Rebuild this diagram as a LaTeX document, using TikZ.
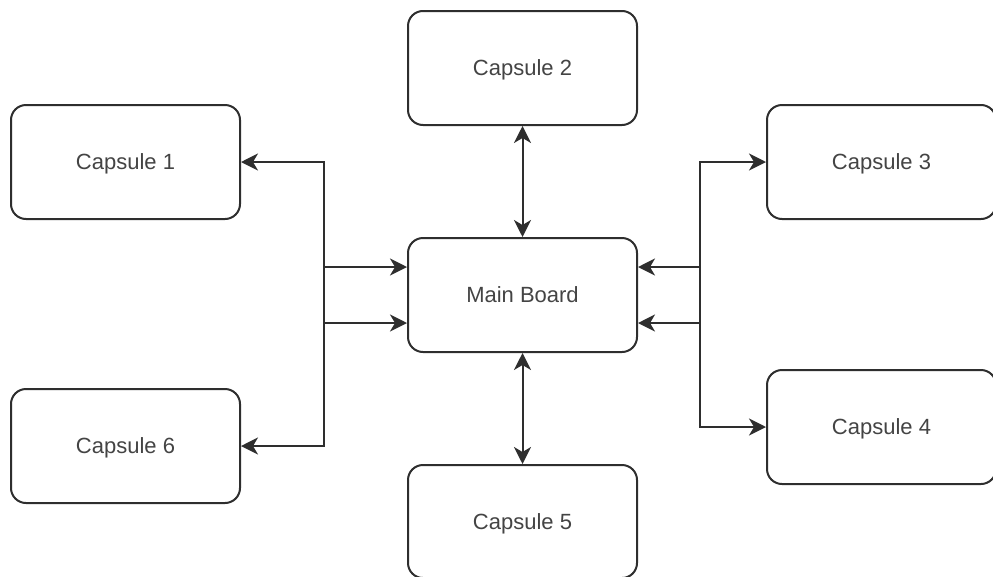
\documentclass[tikz,border=0pt]{standalone}
\usepackage{fontspec}
\setmainfont{Liberation Sans}
\usetikzlibrary{arrows.meta}
\definecolor{edge}{HTML}{2E2E2E}
\definecolor{txt}{HTML}{444444}
\tikzset{
  capsule/.style={draw=edge, line width=2pt, rounded corners=15pt, fill=white,
    minimum width=229pt, minimum height=114pt, inner sep=0pt, text depth=0pt,
    text=txt, font=\fontsize{22pt}{26pt}\selectfont},
  link/.style={draw=edge, line width=2pt,
    {Stealth[length=17pt,width=17pt,inset=5pt]}-{Stealth[length=17pt,width=17pt,inset=5pt]}}
}
\begin{document}
\begin{tikzpicture}[x=1pt,y=-1pt]
  \useasboundingbox (0,0) rectangle (993,576);
  \node[capsule] (main) at (522.5,295) {Main Board};
  \node[capsule] (c1) at (125.5,162) {Capsule 1};
  \node[capsule] (c2) at (522.5,68) {Capsule 2};
  \node[capsule] (c3) at (881.5,162) {Capsule 3};
  \node[capsule] (c4) at (881.5,427) {Capsule 4};
  \node[capsule, minimum height=113pt] (c5) at (522.5,521.5) {Capsule 5};
  \node[capsule] (c6) at (125.5,446) {Capsule 6};

  \draw[link] (c1.east) -- ++(83,0) |- ([yshift=-28pt]main.west);
  \draw[link] (c6.east) -- ++(83,0) |- ([yshift=28pt]main.west);
  \draw[link] (c3.west) -- ++(-66,0) |- ([yshift=-28pt]main.east);
  \draw[link] (c4.west) -- ++(-66,0) |- ([yshift=28pt]main.east);
  \draw[link] (c2.south) -- (main.north);
  \draw[link] (main.south) -- (c5.north);
\end{tikzpicture}
\end{document}
